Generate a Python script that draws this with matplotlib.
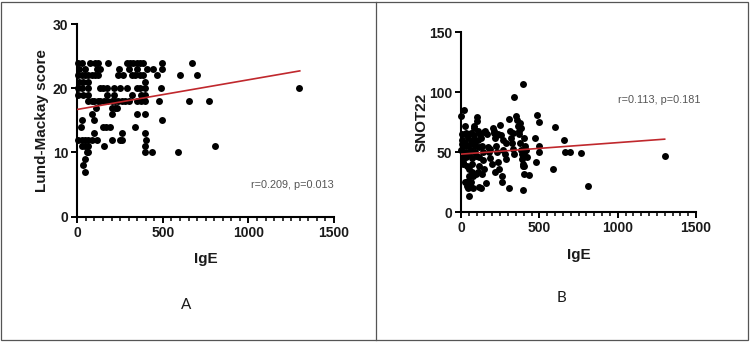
import numpy as np
import matplotlib.pyplot as plt
from matplotlib.patches import Rectangle
from matplotlib.lines import Line2D
from matplotlib.ticker import MultipleLocator

# ---------------------------------------------------------------------------
# Datos
# ---------------------------------------------------------------------------

# Panel A: IgE vs Lund-Mackay score (agrupado por score)
lm_scores = [24, 23, 22, 21, 20, 19, 18, 17, 16, 15, 14, 13, 12, 11, 10, 9, 8, 7]
lm_ige = [
    [6, 26, 74, 104, 123, 182, 289, 308, 328, 347, 367, 386, 493, 669],
    [10, 45, 115, 135, 245, 300, 350, 405, 445, 495],
    [6, 26, 45, 65, 84, 104, 123, 240, 269, 318, 338, 367, 386, 468, 600, 698],
    [10, 35, 60, 396],
    [6, 26, 60, 133, 152, 172, 215, 250, 288, 347, 367, 396, 490, 1298],
    [5, 35, 65, 175, 215, 320, 370, 395],
    [65, 85, 100, 120, 135, 155, 175, 200, 220, 240, 260, 280, 300, 350, 370,
     395, 480, 650, 770],
    [110, 205, 220, 230],
    [84, 201, 347, 396],
    [25, 100, 497],
    [20, 150, 170, 190, 340],
    [95, 260, 396],
    [5, 25, 45, 65, 85, 115, 200, 250, 260, 400],
    [30, 45, 65, 155, 395, 805],
    [55, 65, 396, 435, 587],
    [45],
    [35],
    [45],
]

# Panel B: IgE vs SNOT22
snot_ige = [
    0, 5, 8, 3, 10, 12, 15, 18, 6, 14,
    22, 26, 32, 28, 35, 30, 38, 25, 36, 24,
    42, 45, 48, 50, 52, 55, 46, 49, 58, 44,
    62, 64, 68, 70, 72, 75, 66, 78, 74, 63,
    82, 85, 88, 92, 95, 98, 86, 90,
    102, 105, 108, 110, 112, 115, 118, 106, 117,
    122, 128, 132, 138, 140, 145, 135, 125, 148,
    155, 165, 172, 180, 188, 195, 160, 185,
    205, 212, 218, 225, 230, 238, 245, 215, 210, 235,
    252, 258, 265, 270, 278, 285, 262, 260, 290,
    305, 312, 320, 328, 335, 340, 309, 336, 330,
    352, 358, 362, 368, 372, 378, 382, 388, 392, 396, 398, 400, 398, 398, 375,
    385, 400,
    405, 410, 415, 420, 436, 402,
    470, 479, 485, 496, 498, 496,
    589, 602, 655, 666, 698, 768, 809, 1300,
]
snot_score = [
    80, 65, 57, 52, 45, 42, 40, 55, 60, 48,
    85, 72, 66, 58, 50, 46, 38, 25, 22, 65,
    62, 55, 48, 36, 30, 24, 20, 13, 22, 26,
    58, 52, 45, 40, 33, 30, 25, 20, 60, 66,
    70, 64, 56, 50, 47, 32, 72, 55,
    79, 76, 68, 60, 54, 46, 38, 33, 21,
    65, 62, 55, 50, 43, 36, 32, 20, 67,
    68, 65, 54, 50, 45, 40, 24, 53,
    70, 66, 62, 55, 50, 42, 36, 33, 68, 65,
    73, 64, 60, 52, 48, 44, 30, 25, 58,
    78, 68, 62, 58, 53, 48, 20, 96, 66,
    80, 77, 72, 68, 65, 58, 52, 48, 44, 40, 38, 32, 18, 107, 74,
    70, 50,
    62, 55, 52, 46, 31, 38,
    62, 42, 81, 75, 55, 50,
    36, 71, 60, 50, 50, 49, 22, 47,
]

# Rectas de regresion (extremos)
fit_x = [0, 1300]
fit_lm = [16.7, 22.7]
fit_snot = [48.3, 60.8]

stats_lm = "r=0.209, p=0.013"
stats_snot = "r=0.113, p=0.181"

# ---------------------------------------------------------------------------
# Figura
# ---------------------------------------------------------------------------

W, H = 752, 342
fig = plt.figure(figsize=(W / 100, H / 100), dpi=100)
fig.patch.set_facecolor("white")

AXIS_FONT = ["Liberation Sans", "DejaVu Sans"]
TXT = "#1a1a1a"


def _estilo(ax, ylim, ystep):
    ax.set_xlim(0, 1500)
    ax.set_ylim(*ylim)
    ax.xaxis.set_major_locator(MultipleLocator(500))
    ax.xaxis.set_minor_locator(MultipleLocator(50))
    ax.yaxis.set_major_locator(MultipleLocator(ystep))
    for s in ("top", "right"):
        ax.spines[s].set_visible(False)
    for s in ("left", "bottom"):
        ax.spines[s].set_linewidth(1.5)
        ax.spines[s].set_color("black")
    ax.tick_params(which="major", length=4.5, width=1.4, color="black", pad=2)
    ax.tick_params(which="minor", length=3, width=1.1, color="black")
    ax.tick_params(axis="y", which="minor", left=False)
    for lab in ax.get_xticklabels() + ax.get_yticklabels():
        lab.set_fontfamily(AXIS_FONT)
        lab.set_fontweight("bold")
        lab.set_fontsize(10)
        lab.set_color(TXT)
    ax.set_facecolor("none")


# Panel A
axA = fig.add_axes([77.3 / W, 1 - 216.7 / H, 256.7 / W, 192.7 / H])
for score, iges in zip(lm_scores, lm_ige):
    axA.scatter(iges, [score] * len(iges), s=25, color="black", clip_on=False,
                zorder=3, linewidths=0)
axA.plot(fit_x, fit_lm, color="#c0282d", lw=1.2, zorder=4)
_estilo(axA, (0, 30), 10)
axA.set_xlabel("IgE", fontsize=11, fontweight="bold", family=AXIS_FONT,
               color=TXT, labelpad=9)
axA.set_ylabel("Lund-Mackay score", fontsize=11, fontweight="bold",
               family=AXIS_FONT, color=TXT, labelpad=3)
axA.text(1500, 5, stats_lm, ha="right", va="center", fontsize=7.8,
         family=AXIS_FONT, color="#555555")

# Panel B
axB = fig.add_axes([461 / W, 1 - 212 / H, 235 / W, 179.7 / H])
axB.scatter(snot_ige, snot_score, s=25, color="black", clip_on=False,
            zorder=3, linewidths=0)
axB.plot(fit_x, fit_snot, color="#c0282d", lw=1.2, zorder=4)
_estilo(axB, (0, 150), 50)
axB.set_xlabel("IgE", fontsize=11, fontweight="bold", family=AXIS_FONT,
               color=TXT, labelpad=9)
axB.set_ylabel("SNOT22", fontsize=11, fontweight="bold",
               family=AXIS_FONT, color=TXT, labelpad=0)
axB.text(1530, 93.5, stats_snot, ha="right", va="center", fontsize=7.8,
         family=AXIS_FONT, color="#555555")

# Etiquetas de panel
fig.text(186 / W, 1 - 305 / H, "A", ha="center", va="center", fontsize=11,
         family=["Lato", "DejaVu Sans"], color=TXT)
fig.text(561 / W, 1 - 298 / H, "B", ha="center", va="center", fontsize=11,
         family=["Lato", "DejaVu Sans"], color=TXT)

# Marco exterior y separador
fig.patches.append(Rectangle((1.5 / W, 1 - 339.5 / H), 746 / W, 338 / H,
                             transform=fig.transFigure, fill=False,
                             edgecolor="#555555", lw=0.9))
fig.lines.append(Line2D([375.5 / W, 375.5 / W], [1 - 339.5 / H, 1 - 1.5 / H],
                        transform=fig.transFigure, color="#555555", lw=0.9))

fig.savefig("out.png", dpi=100, facecolor="white")
